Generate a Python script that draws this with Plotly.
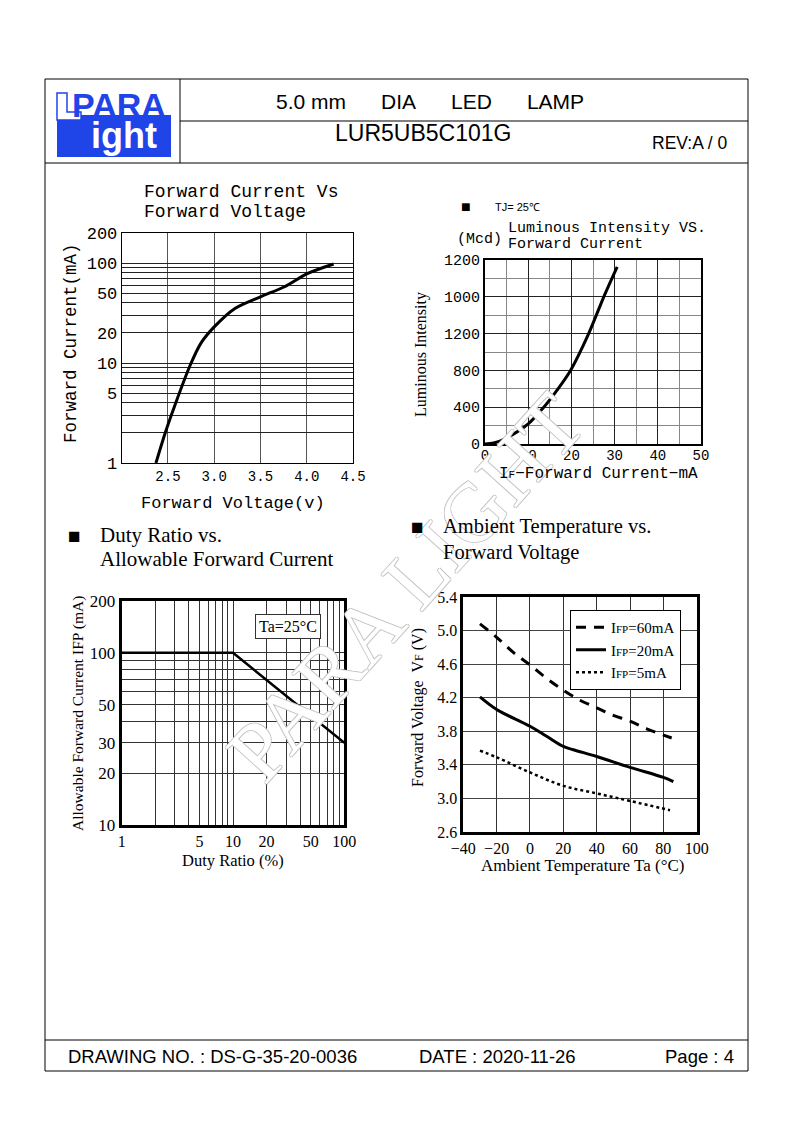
import math
import plotly.graph_objects as go

W, H = 794, 1123
OFF = 8  # the page body adds an 8px margin around the figure


def px(x):
    return (x - OFF) / W


def py(y):
    return 1 - (y - OFF) / H


MONO = "Liberation Mono"
SERIF = "Liberation Serif"
SANS = "Liberation Sans"

# ---------------- data ----------------
# Chart 1: Forward Current vs Forward Voltage
fv_voltage = [2.37, 2.47, 2.58, 2.74, 2.86, 3.0, 3.22, 3.5, 3.76, 4.0, 4.29]
fv_current = [1, 2, 3.9, 9.5, 16, 23, 35, 46, 58, 78, 98]
fv_x_ticks = [2.5, 3.0, 3.5, 4.0, 4.5]
fv_x_text = ["2.5", "3.0", "3.5", "4.0", "4.5"]
fv_y_ticks = [1, 2, 3, 4, 5, 6, 7, 8, 9, 10, 20, 30, 40, 50, 60, 70, 80, 90, 100, 200]
fv_y_labels = {1: "1", 5: "5", 10: "10", 20: "20", 50: "50", 100: "100", 200: "200"}

# Chart 2: Luminous Intensity vs Forward Current
li_current = [0, 2, 5, 10, 13.6, 16.9, 19.8, 24, 27.5, 30.6]
li_intensity = [0, 10, 65, 218, 400, 600, 800, 1200, 1600, 1925]
li_x_ticks = [0, 10, 20, 30, 40, 50]
li_y_ticks = [0, 400, 800, 1200, 1600, 2000]
li_y_text = ["0", "400", "800", "1200", "1000", "1200"]

# Chart 3: Duty Ratio vs Allowable Forward Current
duty_ratio = [1, 10, 100]
duty_ifp = [100, 100, 30]
duty_x_ticks = [1, 2, 3, 4, 5, 6, 7, 8, 9, 10, 20, 30, 40, 50, 60, 70, 80, 90, 100]
duty_x_labels = {1: "1", 5: "5", 10: "10", 20: "20", 50: "50", 100: "100"}
duty_y_ticks = [10, 20, 30, 40, 50, 60, 70, 80, 90, 100, 200]
duty_y_labels = {10: "10", 20: "20", 30: "30", 50: "50", 100: "100", 200: "200"}

# Chart 4: Ambient Temperature vs Forward Voltage
temp_60 = [-30, -20, -10, 0, 10, 20, 30, 40, 50, 60, 70, 85]
vf_60 = [5.08, 4.92, 4.74, 4.59, 4.43, 4.29, 4.17, 4.08, 3.99, 3.92, 3.83, 3.72]
temp_20 = [-30, -20, 0, 10, 20, 26, 40, 60, 80, 86]
vf_20 = [4.21, 4.06, 3.86, 3.74, 3.62, 3.58, 3.50, 3.37, 3.25, 3.20]
temp_5 = [-30, -20, 0, 20, 40, 60, 84]
vf_5 = [3.57, 3.49, 3.31, 3.15, 3.06, 2.97, 2.86]
ta_x_ticks = [-40, -20, 0, 20, 40, 60, 80, 100]
ta_y_ticks = [2.6, 3.0, 3.4, 3.8, 4.2, 4.6, 5.0, 5.4]

fig = go.Figure()

# ---------------- traces ----------------
fig.add_trace(go.Scatter(x=fv_voltage, y=fv_current, xaxis="x", yaxis="y", mode="lines",
                         line=dict(color="black", width=3, shape="spline", smoothing=0.8),
                         showlegend=False, hoverinfo="skip"))
fig.add_trace(go.Scatter(x=li_current, y=li_intensity, xaxis="x2", yaxis="y2", mode="lines",
                         line=dict(color="black", width=3, shape="spline", smoothing=0.8),
                         showlegend=False, hoverinfo="skip"))
fig.add_trace(go.Scatter(x=duty_ratio, y=duty_ifp, xaxis="x3", yaxis="y3", mode="lines",
                         line=dict(color="black", width=2.5),
                         showlegend=False, hoverinfo="skip"))
small = "<span style='font-size:11px'>FP</span>"
fig.add_trace(go.Scatter(x=temp_60, y=vf_60, xaxis="x4", yaxis="y4", mode="lines",
                         name="I" + small + "=60mA",
                         line=dict(color="black", width=3, dash="10px,8px", shape="spline")))
fig.add_trace(go.Scatter(x=temp_20, y=vf_20, xaxis="x4", yaxis="y4", mode="lines",
                         name="I" + small + "=20mA",
                         line=dict(color="black", width=3, shape="spline")))
fig.add_trace(go.Scatter(x=temp_5, y=vf_5, xaxis="x4", yaxis="y4", mode="lines",
                         name="I" + small + "=5mA",
                         line=dict(color="black", width=2.5, dash="dot", shape="spline")))


def ax(**kw):
    d = dict(showline=True, linecolor="black", mirror=True, ticks="", zeroline=False,
             showgrid=True, fixedrange=True, automargin=False)
    d.update(kw)
    return d


fig.update_layout(
    width=W, height=H, autosize=False,
    margin=dict(l=0, r=0, t=0, b=0, pad=0, autoexpand=False),
    paper_bgcolor="white", plot_bgcolor="white",
    showlegend=True,
    legend=dict(x=px(681), xanchor="right", y=py(610), yanchor="top",
                bgcolor="white", bordercolor="black", borderwidth=1,
                font=dict(family=SERIF, size=15, color="black"),
                itemwidth=30, tracegroupgap=0),
    # chart 1
    xaxis=ax(domain=[px(121.7), px(353)], range=[2.0, 4.5], anchor="y",
             tickvals=fv_x_ticks, ticktext=fv_x_text, linewidth=1,
             gridcolor="#555", gridwidth=1.3,
             tickfont=dict(family=MONO, size=14, color="black")),
    yaxis=ax(domain=[py(463), py(233)], type="log", range=[0, math.log10(200)], anchor="x",
             tickvals=fv_y_ticks, ticktext=[fv_y_labels.get(v, "") for v in fv_y_ticks],
             linewidth=1, gridcolor="#222", gridwidth=1,
             tickfont=dict(family=MONO, size=17, color="black")),
    # chart 2
    xaxis2=ax(domain=[px(485), px(701)], range=[0, 50], anchor="y2",
              tickvals=li_x_ticks, linewidth=2, gridcolor="#222", gridwidth=1,
              ticklabelstandoff=-3,
              minor=dict(dtick=5, showgrid=True, gridcolor="#888", gridwidth=1),
              tickfont=dict(family=MONO, size=14, color="black")),
    yaxis2=ax(domain=[py(444), py(260)], range=[0, 2000], anchor="x2",
              tickvals=li_y_ticks, ticktext=li_y_text, linewidth=2,
              gridcolor="#222", gridwidth=1,
              minor=dict(dtick=200, showgrid=True, gridcolor="#888", gridwidth=1),
              tickfont=dict(family=MONO, size=15, color="black")),
    # chart 3
    xaxis3=ax(domain=[px(121.7), px(344.3)], type="log", range=[0, 2], anchor="y3",
              tickvals=duty_x_ticks, ticktext=[duty_x_labels.get(v, "") for v in duty_x_ticks],
              linewidth=3, gridcolor="#333", gridwidth=1,
              tickfont=dict(family=SERIF, size=16, color="black")),
    yaxis3=ax(domain=[py(825), py(601)], type="log", range=[1, math.log10(200)], anchor="x3",
              tickvals=duty_y_ticks, ticktext=[duty_y_labels.get(v, "") for v in duty_y_ticks],
              linewidth=3, gridcolor="#333", gridwidth=1,
              tickfont=dict(family=SERIF, size=17, color="black")),
    # chart 4
    xaxis4=ax(domain=[px(463.3), px(696.7)], range=[-40, 100], anchor="y4",
              tickvals=ta_x_ticks, linewidth=2.5, gridcolor="#333", gridwidth=1,
              tickfont=dict(family=SERIF, size=16, color="black")),
    yaxis4=ax(domain=[py(832), py(597)], range=[2.6, 5.4], anchor="x4",
              tickvals=ta_y_ticks, tickformat=".1f", linewidth=2.5,
              gridcolor="#444", gridwidth=1,
              tickfont=dict(family=SERIF, size=16, color="black")),
)

# ---------------- page frame ----------------
BLUE = "#1f44e8"
shapes = []


def line(x0, y0, x1, y1, w=1, color="black"):
    shapes.append(dict(type="line", xref="paper", yref="paper",
                       x0=px(x0), y0=py(y0), x1=px(x1), y1=py(y1),
                       line=dict(color=color, width=w)))


line(45, 79, 748, 79)
line(45, 1071, 748, 1071)
line(45, 79, 45, 1071)
line(748, 79, 748, 1071)
line(45, 163, 748, 163)
line(180, 79, 180, 163)
line(180, 121, 748, 121)
line(45, 1040, 748, 1040)

# logo
shapes.append(dict(type="rect", xref="paper", yref="paper",
                   x0=px(57), x1=px(171), y0=py(157), y1=py(115),
                   fillcolor=BLUE, line=dict(width=0)))
lpath = "M {:.5f},{:.5f} L {:.5f},{:.5f} L {:.5f},{:.5f} L {:.5f},{:.5f} L {:.5f},{:.5f} L {:.5f},{:.5f} Z".format(
    px(57), py(93), px(67), py(93), px(67), py(112), px(81), py(112), px(81), py(120), px(57), py(120))
shapes.append(dict(type="path", xref="paper", yref="paper", path=lpath,
                   fillcolor="white", line=dict(color=BLUE, width=1.5)))
fig.update_layout(shapes=shapes)

annotations = []

# watermark first, so that every other text is drawn above it
annotations.append(dict(
    text="PARA LIGHT", x=px(405), y=py(587), xref="paper", yref="paper", showarrow=False,
    textangle=-48,
    font=dict(family=SERIF, size=84, color="rgba(255,255,255,1)",
              shadow="1px 0 0 #c4c4c4, -1px 0 0 #c4c4c4, 0 1px 0 #c4c4c4, 0 -1px 0 #c4c4c4")))


def ann(text, x, y, size, family, xanchor="center", yanchor="middle", color="black", **kw):
    d = dict(text=text, x=px(x), y=py(y), xref="paper", yref="paper", showarrow=False,
             xanchor=xanchor, yanchor=yanchor,
             font=dict(family=family, size=size, color=color))
    d.update(kw)
    annotations.append(d)


NB = "\u00a0"
# header: logo as one two-line text (tight line spacing through a small base size)
ann("<span style='font-size:34px;color:" + BLUE + "'><b>PARA</b></span><br>"
    "<span style='font-size:36px;color:white'><b>" + NB + "ight</b></span>",
    119, 121, 24, SANS, align="center")
ann("5.0 mm" + NB * 6 + "DIA" + NB * 6 + "LED" + NB * 6 + "LAMP", 430, 102, 21, SANS)
ann("LUR5UB5C101G", 423, 133, 23, SANS)
ann("REV:A / 0", 689, 143, 17.5, SANS)
# footer
ann("DRAWING NO. : DS-G-35-20-0036", 66, 1056, 18.5, SANS, xanchor="left")
ann("DATE : 2020-11-26", 417, 1056, 18.5, SANS, xanchor="left")
ann("Page : 4", 736, 1056, 18.5, SANS, xanchor="right")

# chart 1 texts
ann("<span style='font-size:18px'>Forward" + NB + "Current" + NB + "Vs<br>Forward" + NB + "Voltage</span>",
    142, 202, 15.4, MONO, xanchor="left", align="left")
ann("Forward Current(mA)", 71, 343, 17.5, MONO, textangle=-90)
ann("Forward Voltage(v)", 233, 503, 17, MONO)

# chart 2 texts
ann("■", 466, 207, 16, SANS)
ann("TJ= 25℃", 493, 207, 11, SANS, xanchor="left")
ann("(Mcd)", 455, 239, 15, MONO, xanchor="left")
ann("<span style='font-size:15px'>Luminous" + NB + "Intensity" + NB + "VS.<br>Forward" + NB + "Current</span>",
    506, 236.5, 12.6, MONO, xanchor="left", align="left")
ann("Luminous Intensity", 421, 355, 16, SERIF, textangle=-90)
ann("I<span style='font-size:11px'>F</span>−Forward" + NB + "Current−mA", 598, 474, 16, MONO)

# chart 3 texts
ann("■", 74, 535, 21, SANS)
ann("Duty Ratio vs.", 98, 535, 21, SERIF, xanchor="left")
ann("Allowable Forward Current", 98, 559, 21, SERIF, xanchor="left")
ann("Allowable Forward Current IFP (mA)", 78, 714, 15.5, SERIF, textangle=-90)
ann("Duty Ratio (%)", 233, 860, 16.5, SERIF)
ann("Ta=25°C", 288, 626, 16, SERIF, bgcolor="white", bordercolor="#333",
    borderwidth=1, borderpad=3)

# chart 4 texts
ann("■", 417, 526, 21, SANS)
ann("Ambient Temperature vs.", 441, 526, 20.5, SERIF, xanchor="left")
ann("Forward Voltage", 441, 552, 20.5, SERIF, xanchor="left")
ann("Forward Voltage" + NB + NB + "V<span style='font-size:12px'>F</span> (V)", 418, 707, 16, SERIF,
    textangle=-90)
ann("Ambient Temperature Ta (°C)", 582, 865, 17, SERIF)

fig.update_layout(annotations=annotations)

fig.write_html("out.html")
